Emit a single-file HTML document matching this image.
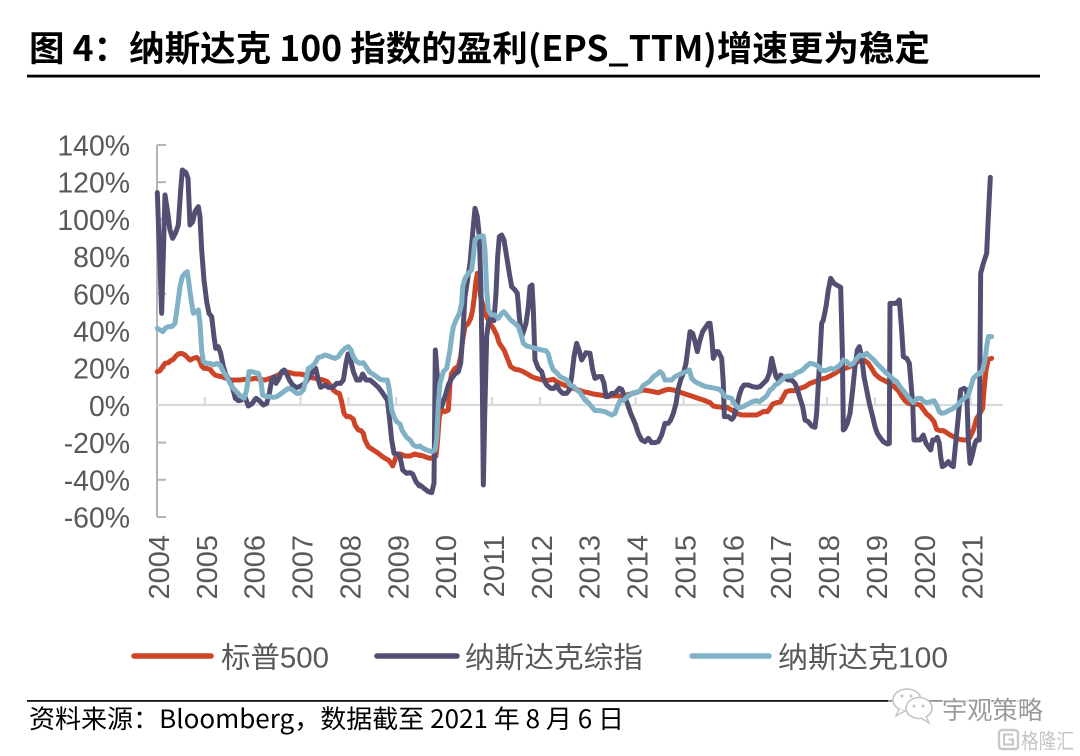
<!DOCTYPE html>
<html><head><meta charset="utf-8">
<style>
html,body{margin:0;padding:0;background:#fff;}
svg{display:block;}
.ax{font-family:"Liberation Sans","Noto Sans CJK SC",sans-serif;fill:#595959;}
</style></head>
<body>
<svg width="1080" height="756" viewBox="0 0 1080 756" xmlns="http://www.w3.org/2000/svg">
<rect width="1080" height="756" fill="#fff"/>
<!-- Title -->
<text x="29" y="61" font-family="'Noto Sans CJK SC','Liberation Sans',sans-serif" font-weight="bold" font-size="35" fill="#000" textLength="901" lengthAdjust="spacingAndGlyphs">图 4：纳斯达克 100 指数的盈利(EPS_TTM)增速更为稳定</text>
<rect x="27" y="74.7" width="1013" height="2.8" fill="#000"/>

<!-- Y axis -->
<g stroke="#b4b4b4" stroke-width="2" fill="none">
<line x1="157" y1="145" x2="157" y2="517"/>
<line x1="157" y1="145" x2="166" y2="145"/>
<line x1="157" y1="182.2" x2="166" y2="182.2"/>
<line x1="157" y1="219.4" x2="166" y2="219.4"/>
<line x1="157" y1="256.6" x2="166" y2="256.6"/>
<line x1="157" y1="293.8" x2="166" y2="293.8"/>
<line x1="157" y1="331" x2="166" y2="331"/>
<line x1="157" y1="368.2" x2="166" y2="368.2"/>
<line x1="157" y1="442.6" x2="166" y2="442.6"/>
<line x1="157" y1="479.8" x2="166" y2="479.8"/>
<line x1="157" y1="517" x2="166" y2="517"/>
</g>
<!-- X axis (0 line) -->
<g stroke="#d9d9d9" stroke-width="2.2" fill="none">
<line x1="157" y1="405" x2="1003" y2="405"/>
<line x1="204.86" y1="397" x2="204.86" y2="405"/>
<line x1="252.72" y1="397" x2="252.72" y2="405"/>
<line x1="300.58" y1="397" x2="300.58" y2="405"/>
<line x1="348.44" y1="397" x2="348.44" y2="405"/>
<line x1="396.3" y1="397" x2="396.3" y2="405"/>
<line x1="444.16" y1="397" x2="444.16" y2="405"/>
<line x1="492.02" y1="397" x2="492.02" y2="405"/>
<line x1="539.88" y1="397" x2="539.88" y2="405"/>
<line x1="587.74" y1="397" x2="587.74" y2="405"/>
<line x1="635.6" y1="397" x2="635.6" y2="405"/>
<line x1="683.46" y1="397" x2="683.46" y2="405"/>
<line x1="731.32" y1="397" x2="731.32" y2="405"/>
<line x1="779.18" y1="397" x2="779.18" y2="405"/>
<line x1="827.04" y1="397" x2="827.04" y2="405"/>
<line x1="874.9" y1="397" x2="874.9" y2="405"/>
<line x1="922.76" y1="397" x2="922.76" y2="405"/>
<line x1="970.62" y1="397" x2="970.62" y2="405"/>
</g>

<!-- Y labels -->
<g class="ax" font-size="28.4" text-anchor="end">
<text x="130" y="155.5">140%</text>
<text x="130" y="192.7">120%</text>
<text x="130" y="229.9">100%</text>
<text x="130" y="267.1">80%</text>
<text x="130" y="304.3">60%</text>
<text x="130" y="341.5">40%</text>
<text x="130" y="378.7">20%</text>
<text x="130" y="415.9">0%</text>
<text x="130" y="453.1">-20%</text>
<text x="130" y="490.3">-40%</text>
<text x="130" y="527.5">-60%</text>
</g>
<!-- X labels -->
<g class="ax" font-size="29" text-anchor="end">
<text transform="translate(169,535) rotate(-90)">2004</text>
<text transform="translate(216.86,535) rotate(-90)">2005</text>
<text transform="translate(264.72,535) rotate(-90)">2006</text>
<text transform="translate(312.58,535) rotate(-90)">2007</text>
<text transform="translate(360.44,535) rotate(-90)">2008</text>
<text transform="translate(408.3,535) rotate(-90)">2009</text>
<text transform="translate(456.16,535) rotate(-90)">2010</text>
<text transform="translate(504.02,535) rotate(-90)">2011</text>
<text transform="translate(551.88,535) rotate(-90)">2012</text>
<text transform="translate(599.74,535) rotate(-90)">2013</text>
<text transform="translate(647.6,535) rotate(-90)">2014</text>
<text transform="translate(695.46,535) rotate(-90)">2015</text>
<text transform="translate(743.32,535) rotate(-90)">2016</text>
<text transform="translate(791.18,535) rotate(-90)">2017</text>
<text transform="translate(839.04,535) rotate(-90)">2018</text>
<text transform="translate(886.9,535) rotate(-90)">2019</text>
<text transform="translate(934.76,535) rotate(-90)">2020</text>
<text transform="translate(982.62,535) rotate(-90)">2021</text>
</g>

<!-- Series: red (S&P500) -->
<g fill="none" stroke="#cd4526" stroke-width="15" stroke-linejoin="round" stroke-linecap="round">
<polyline transform="translate(150,150) scale(0.333333)" points="22,665 30,662 38,650 45,640 55,638 62,632 70,628 78,618 85,612 95,610 105,615 112,622 120,630 130,625 140,622 148,630 155,648 162,655 170,655 180,658 188,668 195,675 205,678 215,680 228,685 240,690 255,690 270,690 285,688 300,688 315,685 330,688 345,690 360,685 375,680 390,672 405,665 420,668 435,672 450,672 465,675 480,682 495,685 510,688 520,690 532,695 540,705 550,720 560,728 568,730 575,755 582,790 590,800 600,800 610,808 615,825 625,840 633,842 640,850 645,870 655,890 670,900 685,910 695,918 705,925 715,930 722,938 728,948 735,930 740,912 750,912 765,918 780,918 795,912 810,917"/>
<polyline transform="translate(420,150) scale(0.333333)" points="0,915 10,918 20,922 30,925 40,922 48,918 52,880 58,800 65,780 75,785 85,780 90,700 95,670 105,655 115,650 122,620 128,570 135,530 145,520 152,505 158,480 163,440 167,400 172,370 178,400 182,440 190,470 200,500 210,520 220,535 230,555 238,580 245,590 252,600 262,625 272,650 285,658 298,660 310,665 322,672 335,680 348,685 360,688 375,692 390,690 400,688 410,695 420,700 432,705 445,710 460,715 475,720 490,725 505,728 520,732 540,735 560,738 580,737 600,738 620,735 640,730 655,725 670,720 685,722 700,725 715,728 730,722 745,718 760,720 775,725 790,730 805,735 820,740 835,745 850,750 870,758"/>
<polyline transform="translate(710,150) scale(0.333333)" points="0,758 10,768 20,770 35,772 50,772 65,780 80,790 95,795 110,795 125,795 140,795 150,790 160,785 172,785 180,775 188,762 200,758 212,755 220,740 228,725 240,722 255,722 270,715 285,710 300,700 315,695 330,688 345,685 360,678 375,670 390,660 405,655 420,650 435,640 450,632 465,632 475,640 485,655 495,672 510,685 520,690 535,698 550,708 565,722 575,738 585,752 595,760 605,762 618,762 630,765 640,778 650,792 660,800 672,815 680,838 690,842 700,842 710,848 720,855 730,860 740,865 750,868 760,870 770,870 780,862 790,840 800,805 810,790 818,775 822,720 828,660 835,628 845,625"/>
</g>

<!-- Series: dark (Nasdaq Composite) -->
<g fill="none" stroke="#534f73" stroke-width="15" stroke-linejoin="round" stroke-linecap="round">
<polyline transform="translate(150,150) scale(0.333333)" points="22,128 35,490 45,135 52,180 60,240 68,265 76,250 85,225 92,120 97,60 108,68 114,85 120,225 128,215 135,185 145,170 150,200 155,300 162,390 170,455 177,490 185,500 192,560 197,595 205,590 212,610 220,650 228,675 238,690 248,715 256,745 265,752 275,750 285,740 295,768 305,762 318,745 328,752 340,765 350,760 358,730 365,690 372,680 378,700 387,685 395,665 403,660 410,672 418,690 428,705 440,713 452,708 465,700 485,670 497,655 505,690 512,712 525,705 535,712 548,712 560,700 572,700 580,690 588,640 594,612 602,630 610,665 620,690 630,690 638,672 648,690 660,690 672,700 685,712 695,725 705,740 712,750 718,800 725,870 732,910 742,912 750,920 758,960 770,970 780,968 788,972 798,995 808,1008"/>
<polyline transform="translate(420,150) scale(0.333333)" points="0,1005 12,1015 25,1025 35,1028 42,1000 46,600 52,680 58,760 65,770 75,740 85,705 95,685 105,672 115,665 122,640 128,560 135,440 142,395 150,340 158,250 165,175 172,200 178,260 183,420 187,700 190,1005 194,800 200,560 205,520 212,505 222,512 228,430 233,320 238,260 245,255 252,270 260,320 268,370 275,410 285,420 292,430 298,500 305,560 312,540 318,520 325,470 330,410 336,405 340,480 345,630 355,655 365,665 372,690 380,705 392,715 402,715 410,705 418,720 428,730 440,730 448,720 455,680 462,620 470,580 477,600 485,630 498,608 510,610 518,660 525,685 535,680 545,680 552,700 558,740 565,740 575,730 585,730 598,715 605,718 612,735 622,760 632,790 645,820 655,850 665,870 675,875 685,865 695,878 705,878 715,875 725,855 735,820 745,820 752,810 760,790 768,760 775,715 782,690 790,670 798,640 805,585 810,545 818,550 825,575 832,605 840,570 848,545 858,530 865,520 870,520"/>
<polyline transform="translate(710,150) scale(0.333333)" points="0,520 5,560 10,625 18,605 25,605 35,625 40,700 43,800 55,800 65,808 72,800 80,770 88,735 95,715 102,705 115,705 128,710 140,712 150,710 160,700 170,690 178,670 185,625 192,655 198,680 205,690 212,675 218,680 225,685 235,690 245,690 255,700 262,718 270,745 278,770 285,810 295,815 305,828 315,832 320,790 328,650 335,520 340,510 348,470 355,420 362,385 372,400 380,405 392,412 397,600 400,840 405,835 412,820 420,790 428,720 435,650 442,600 448,590 455,620 462,680 470,720 478,760 488,800 495,830 502,850 512,865 520,875 532,882 538,880 540,460 548,460 558,460 568,450 575,540 580,620 590,625 598,640 603,700 608,760 612,870 620,870 630,870 640,855 648,880 655,890 662,900 668,870 675,870 682,862 688,880 692,920 697,950 705,945 715,935 722,945 730,950 738,870 745,800 752,720 762,715 770,720 775,870 780,940 787,915 795,880 800,870 808,870 812,370 820,340 830,310 835,200 841,82"/>
</g>

<!-- Series: light blue (Nasdaq 100) -->
<g fill="none" stroke="#80b1c5" stroke-width="15" stroke-linejoin="round" stroke-linecap="round">
<polyline transform="translate(150,150) scale(0.333333)" points="22,535 30,540 38,545 45,535 55,530 65,530 75,520 82,470 90,410 97,380 105,370 112,365 118,410 125,460 130,490 138,485 145,480 150,520 155,600 160,635 170,640 180,640 190,645 200,640 210,645 220,665 230,680 240,700 250,715 262,728 272,738 282,745 290,720 297,665 305,665 315,668 325,670 332,690 338,735 348,740 360,740 370,742 380,740 395,730 405,722 415,715 425,718 440,730 450,730 460,720 468,690 475,655 485,650 495,640 505,622 515,620 525,615 535,618 545,622 555,625 565,620 575,605 585,595 595,590 603,600 610,620 620,635 630,640 640,638 648,650 658,665 668,672 680,680 690,688 700,690 712,690 718,720 725,780 732,800 740,815 750,822 755,838 762,850 770,862 780,870 790,885 800,890 810,888"/>
<polyline transform="translate(420,150) scale(0.333333)" points="0,890 10,895 20,900 35,905 45,900 50,870 55,760 60,700 70,665 80,655 90,600 95,560 100,530 108,510 118,490 125,460 128,410 135,385 145,370 155,360 160,320 165,270 175,260 190,258 195,300 200,420 205,480 215,495 225,495 235,505 245,490 252,485 260,495 272,510 285,520 295,530 305,560 310,580 320,588 335,592 350,596 365,600 378,602 385,612 392,640 400,660 410,668 420,680 430,685 440,690 450,705 462,710 470,720 478,725 485,735 495,750 505,758 515,770 525,782 540,782 555,785 565,790 575,795 585,790 592,770 600,752 610,752 622,740 630,735 640,728 650,728 660,722 670,706 680,700 690,693 700,680 712,672 720,665 728,672 735,690 745,690 755,690 765,680 775,675 790,668 800,665 808,660 815,685 825,695 835,700 845,705 858,710 870,712"/>
<polyline transform="translate(710,150) scale(0.333333)" points="0,712 15,715 28,718 35,725 45,740 55,742 65,745 72,760 82,772 92,772 100,770 108,765 118,760 128,755 138,752 148,755 155,750 165,742 172,735 180,720 188,715 195,705 205,700 215,690 225,680 235,678 245,678 252,675 260,668 270,665 280,658 290,648 300,640 310,642 318,645 326,650 333,660 343,662 352,660 362,655 372,658 380,652 390,645 400,630 410,635 420,645 430,640 440,625 450,615 460,618 470,610 480,620 490,628 500,640 510,650 520,660 530,670 540,678 550,688 560,695 570,710 580,722 590,735 600,748 610,758 622,745 632,745 642,755 652,758 662,755 672,752 680,765 688,785 695,790 705,788 715,782 725,778 735,772 745,762 755,752 765,742 775,736 782,712 790,685 800,675 810,670 818,660 825,630 830,590 835,560 845,560"/>
</g>

<!-- Legend -->
<g stroke-width="5.5" stroke-linecap="round">
<line x1="134" y1="656" x2="211" y2="656" stroke="#cd4526"/>
<line x1="377" y1="656" x2="457" y2="656" stroke="#534f73"/>
<line x1="692" y1="656" x2="769" y2="656" stroke="#80b1c5"/>
</g>
<g class="ax" font-size="29">
<text x="221" y="667.5" textLength="108" lengthAdjust="spacingAndGlyphs">标普500</text>
<text x="465" y="667.5" textLength="178" lengthAdjust="spacingAndGlyphs">纳斯达克综指</text>
<text x="778" y="667.5" textLength="170" lengthAdjust="spacingAndGlyphs">纳斯达克100</text>
</g>

<!-- Footer -->
<rect x="27" y="700" width="1013" height="1.8" fill="#111"/>
<text x="29" y="728" font-family="'Noto Sans CJK SC','Liberation Sans',sans-serif" font-size="25.5" fill="#000" textLength="595" lengthAdjust="spacingAndGlyphs">资料来源：Bloomberg，数据截至 2021 年 8 月 6 日</text>

<!-- Watermark -->
<g>
<rect x="888" y="684" width="160" height="42" fill="#fff" opacity="0.55"/>
<ellipse cx="907" cy="700" rx="14" ry="11" fill="#fff" stroke="#c4c4c4" stroke-width="1.6"/>
<path d="M899 709 L896 716 L905 711" fill="#fff" stroke="#c4c4c4" stroke-width="1.4"/>
<ellipse cx="919" cy="708" rx="13" ry="10.5" fill="#fff" stroke="#c4c4c4" stroke-width="1.6"/>
<path d="M926 716 L929 723 L921 718" fill="#fff" stroke="#c4c4c4" stroke-width="1.4"/>
<circle cx="902" cy="696" r="1.5" fill="#c4c4c4"/>
<circle cx="911" cy="696" r="1.5" fill="#c4c4c4"/>
<circle cx="914" cy="706" r="1.5" fill="#c4c4c4"/>
<circle cx="923" cy="706" r="1.5" fill="#c4c4c4"/>
<text x="942" y="719" font-family="'Noto Sans CJK SC',sans-serif" font-size="25" fill="#9a9a9a" stroke="#fff" stroke-width="2.5" paint-order="stroke" textLength="101" lengthAdjust="spacingAndGlyphs">宇观策略</text>
<rect x="999" y="730" width="19" height="19" rx="3" fill="none" stroke="#c8c8c8" stroke-width="2.4"/>
<path d="M1013 734.5 L1004 734.5 L1004 744.5 L1013 744.5 L1013 739.5 L1008.5 739.5" fill="none" stroke="#c8c8c8" stroke-width="2.2"/>
<text x="1021" y="748.5" font-family="'Noto Sans CJK SC',sans-serif" font-size="21" fill="#c4c4c4" textLength="53" lengthAdjust="spacingAndGlyphs">格隆汇</text>
</g>
</svg>
</body></html>
